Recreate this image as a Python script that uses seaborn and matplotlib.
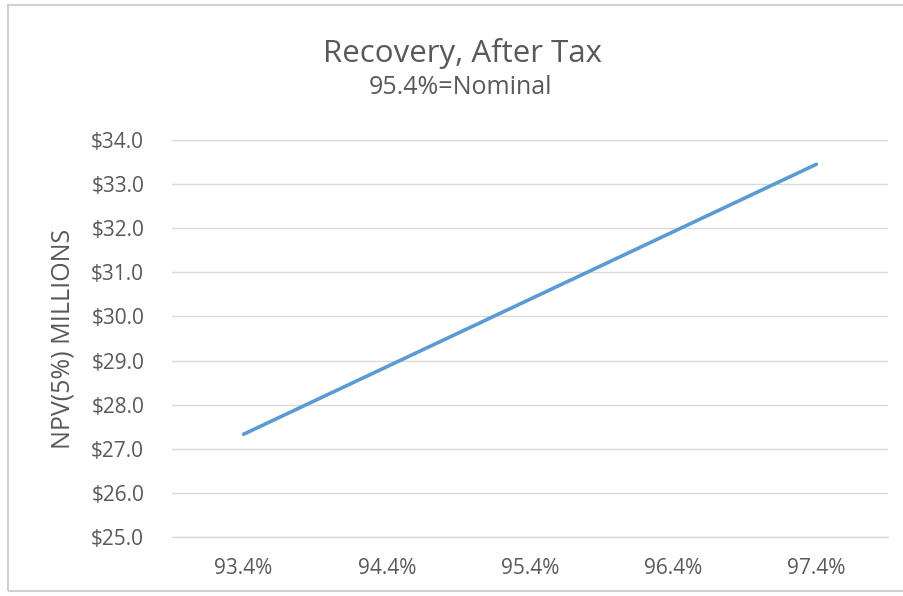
import matplotlib
matplotlib.use("Agg")
import matplotlib.pyplot as plt
import seaborn as sns
import pandas as pd
from matplotlib.patches import Rectangle
from matplotlib.ticker import FuncFormatter

# Recovery sensitivity, after-tax NPV at 5% discount ($ millions)
recovery = ["93.4%", "94.4%", "95.4%", "96.4%", "97.4%"]
npv = [27.33, 28.86, 30.39, 31.92, 33.45]
y_ticks = [25, 26, 27, 28, 29, 30, 31, 32, 33, 34]

df = pd.DataFrame({"Recovery": recovery, "NPV": npv})

sns.set_theme(style="white")
plt.rcParams["font.family"] = ["Open Sans", "DejaVu Sans"]

text_color = "#595959"
grid_color = "#D9D9D9"

fig = plt.figure(figsize=(9.04, 5.96), dpi=100)
ax = fig.add_axes([172 / 904, 1 - 537 / 596, (888 - 172) / 904, (537 - 140) / 596])

sns.lineplot(data=df, x="Recovery", y="NPV", ax=ax, color="#5B9BD5",
             linewidth=2.6, sort=False)

ax.set_xlim(-0.5, len(recovery) - 0.5)
ax.set_ylim(y_ticks[0], y_ticks[-1])
ax.set_yticks(y_ticks)
ax.yaxis.set_major_formatter(FuncFormatter(lambda v, _: f"${v:.1f}"))
ax.grid(axis="y", color=grid_color, linewidth=1.0)
ax.set_axisbelow(True)
for side in ["top", "right", "left"]:
    ax.spines[side].set_visible(False)
ax.spines["bottom"].set_color(grid_color)
ax.spines["bottom"].set_linewidth(1.0)

ax.tick_params(axis="both", length=0, labelsize=15, colors=text_color)
ax.tick_params(axis="y", pad=20)
ax.tick_params(axis="x", pad=15)
ax.set_xlabel("")
ax.set_ylabel("NPV(5%) MILLIONS", fontsize=18, color=text_color, labelpad=11)

fig.text(463 / 904, 1 - 62 / 596, "Recovery, After Tax", ha="center", va="baseline",
         fontsize=22.5, color=text_color)
fig.text(461 / 904, 1 - 94 / 596, "95.4%=Nominal", ha="center", va="baseline",
         fontsize=18, color=text_color)

# chart-area frame
fig.patches.append(Rectangle((8 / 904, 5 / 596), 1.2, 1 - 10 / 596,
                             transform=fig.transFigure, fill=False,
                             edgecolor="#D0D0D0", linewidth=1.5))

fig.savefig("out.png", dpi=100, facecolor="white")
